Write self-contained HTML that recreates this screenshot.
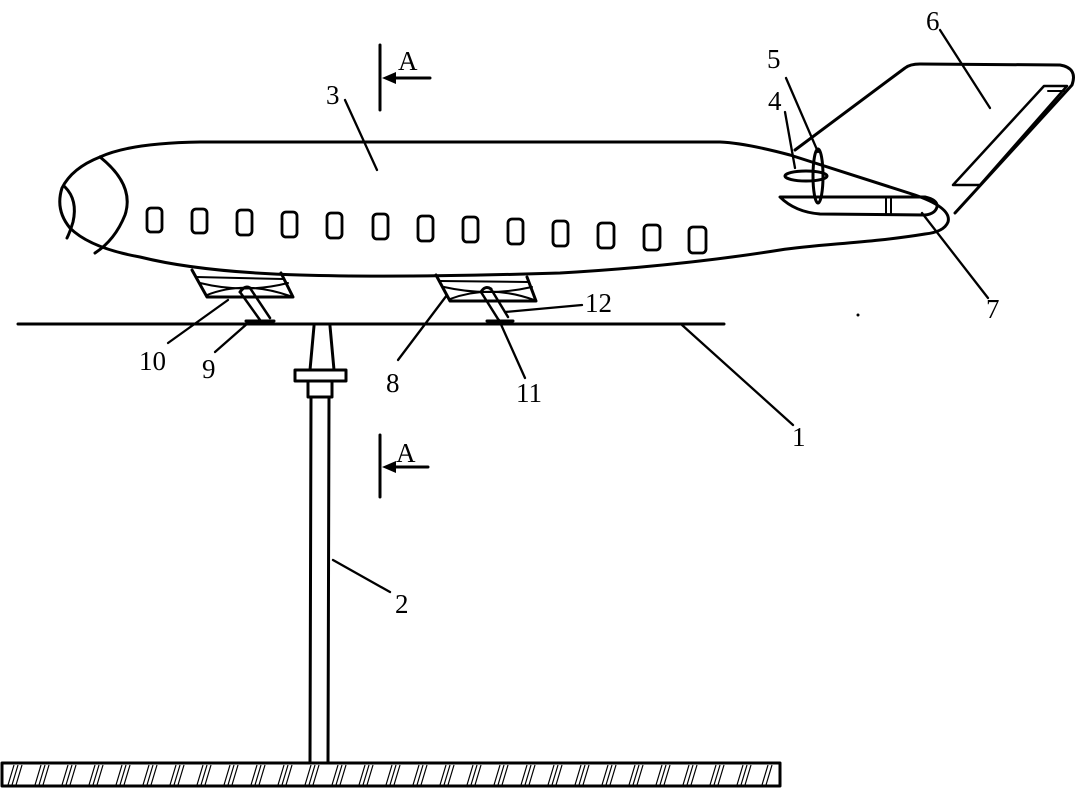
<!DOCTYPE html>
<html><head><meta charset="utf-8"><style>
html,body{margin:0;padding:0;background:#fff;}
svg{display:block;}
text{font-family:"Liberation Serif",serif;font-size:27px;fill:#000;}
</style></head><body>
<svg width="1076" height="788" viewBox="0 0 1076 788" xmlns="http://www.w3.org/2000/svg">
<g fill="none" stroke="#000" stroke-width="3" stroke-linejoin="round" stroke-linecap="round">
<path d="M795,150 L905,68 Q910,64 920,64 L1060,65 Q1078,68 1072,85 L955,213"/>
<path d="M1044,86 L1067,86 L980,185 L953,185 Z" stroke-width="2.5"/>
<path d="M1048,91 L1064,91" stroke-width="2"/>
<path d="M100,157 Q130,143 200,142 L720,142 Q745,143 790,155 L915,195 Q952,208 948,222 Q944,232 925,234 C870,243 820,244 780,250 Q680,266 560,273 Q400,278 300,275 Q200,272 140,257 Q90,248 70,228 Q55,210 62,188 Q72,168 100,157 Z"/>
<path d="M100,157 Q135,185 125,215 Q115,240 95,253"/>
<path d="M65,187 Q78,200 73,222 Q70,232 67,238"/>
<path d="M780,197 L925,197 Q938,200 937,207 Q935,214 925,215 L820,214 Q795,212 780,197 Z"/>
<path d="M886,198 L886,214 M891,198 L891,214" stroke-width="2"/>
<ellipse cx="806" cy="176" rx="21" ry="5"/>
<ellipse cx="818" cy="176" rx="5" ry="27"/>
<g stroke-width="2.8">
<rect x="147" y="208" width="15" height="24" rx="4"/>
<rect x="192" y="209" width="15" height="24" rx="4"/>
<rect x="237" y="210" width="15" height="25" rx="4"/>
<rect x="282" y="212" width="15" height="25" rx="4"/>
<rect x="327" y="213" width="15" height="25" rx="4"/>
<rect x="373" y="214" width="15" height="25" rx="4"/>
<rect x="418" y="216" width="15" height="25" rx="4"/>
<rect x="463" y="217" width="15" height="25" rx="4"/>
<rect x="508" y="219" width="15" height="25" rx="4"/>
<rect x="553" y="221" width="15" height="25" rx="4"/>
<rect x="598" y="223" width="16" height="25" rx="4"/>
<rect x="644" y="225" width="16" height="25" rx="4"/>
<rect x="689" y="227" width="17" height="26" rx="4"/>
</g>
<path d="M192,270 L207,297 L293,297 L281,273"/>
<path d="M196,277 L283,279" stroke-width="2"/>
<path d="M200,283 Q245,294 288,283 M207,295 Q245,280 290,296" stroke-width="2"/>
<path d="M240,292 L260,320 M250,288 L270,318" stroke-width="2.5"/>
<path d="M240,292 Q245,285 250,288"/>
<path d="M246,321 L274,321"/>
<path d="M436,275 L450,301 L536,301 L527,277"/>
<path d="M440,281 L528,282" stroke-width="2"/>
<path d="M444,287 Q488,297 532,287 M450,299 Q490,284 534,300" stroke-width="2"/>
<path d="M481,292 L498,319 M491,289 L508,317" stroke-width="2.5"/>
<path d="M481,292 Q485,285 491,289"/>
<path d="M487,321 L513,321"/>
<path d="M18,324 L724,324"/>
<path d="M314,326 L310,370 M330,326 L334,370"/>
<rect x="295" y="370" width="51" height="11"/>
<rect x="308" y="381" width="24" height="16"/>
<path d="M311,397 L310,763 M329,397 L328,763"/>
<rect x="2" y="763" width="778" height="23"/>
<path d="M380,45 L380,110 M380,435 L380,497"/>
<path d="M430,78 L392,78 M428,467 L392,467"/>
<g stroke-width="2.3">
<path d="M345,100 L377,170"/>
<path d="M785,112 L795,168"/>
<path d="M786,78 L818,152"/>
<path d="M940,30 L990,108"/>
<path d="M988,298 L922,213"/>
<path d="M582,305 L505,312"/>
<path d="M525,378 L499,320"/>
<path d="M398,360 L447,295"/>
<path d="M168,343 L228,300"/>
<path d="M215,352 L248,323"/>
<path d="M793,425 L682,325"/>
<path d="M390,592 L333,560"/>
</g>
</g>
<g fill="#000">
<path d="M382,78 L396,72 L396,84 Z"/>
<path d="M382,467 L396,461 L396,473 Z"/>
<circle cx="858" cy="315" r="1.5"/>
</g>
<g stroke="#000" stroke-width="1.2">
<path d="M8,785 L14,765 M12,785 L18,765 M16,785 L22,765 M35,785 L41,765 M39,785 L45,765 M43,785 L49,765 M62,785 L68,765 M66,785 L72,765 M70,785 L76,765 M89,785 L95,765 M93,785 L99,765 M97,785 L103,765 M116,785 L122,765 M120,785 L126,765 M124,785 L130,765 M143,785 L149,765 M147,785 L153,765 M151,785 L157,765 M170,785 L176,765 M174,785 L180,765 M178,785 L184,765 M197,785 L203,765 M201,785 L207,765 M205,785 L211,765 M224,785 L230,765 M228,785 L234,765 M232,785 L238,765 M251,785 L257,765 M255,785 L261,765 M259,785 L265,765 M278,785 L284,765 M282,785 L288,765 M286,785 L292,765 M305,785 L311,765 M309,785 L315,765 M313,785 L319,765 M332,785 L338,765 M336,785 L342,765 M340,785 L346,765 M359,785 L365,765 M363,785 L369,765 M367,785 L373,765 M386,785 L392,765 M390,785 L396,765 M394,785 L400,765 M413,785 L419,765 M417,785 L423,765 M421,785 L427,765 M440,785 L446,765 M444,785 L450,765 M448,785 L454,765 M467,785 L473,765 M471,785 L477,765 M475,785 L481,765 M494,785 L500,765 M498,785 L504,765 M502,785 L508,765 M521,785 L527,765 M525,785 L531,765 M529,785 L535,765 M548,785 L554,765 M552,785 L558,765 M556,785 L562,765 M575,785 L581,765 M579,785 L585,765 M583,785 L589,765 M602,785 L608,765 M606,785 L612,765 M610,785 L616,765 M629,785 L635,765 M633,785 L639,765 M637,785 L643,765 M656,785 L662,765 M660,785 L666,765 M664,785 L670,765 M683,785 L689,765 M687,785 L693,765 M691,785 L697,765 M710,785 L716,765 M714,785 L720,765 M718,785 L724,765 M737,785 L743,765 M741,785 L747,765 M745,785 L751,765 M762,785 L768,765 M766,785 L772,765"/>
</g>
<text x="398" y="70">A</text>
<text x="396" y="462">A</text>
<text x="326" y="104">3</text>
<text x="768" y="110">4</text>
<text x="767" y="68">5</text>
<text x="926" y="30">6</text>
<text x="986" y="318">7</text>
<text x="386" y="392">8</text>
<text x="202" y="378">9</text>
<text x="139" y="370">10</text>
<text x="516" y="402">11</text>
<text x="585" y="312">12</text>
<text x="792" y="446">1</text>
<text x="395" y="613">2</text>
</svg>
</body></html>
